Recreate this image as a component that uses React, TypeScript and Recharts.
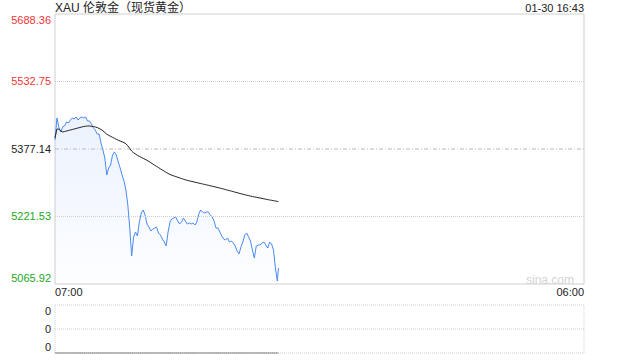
import React from 'react';
import { ComposedChart, Area, Line, XAxis, YAxis, ReferenceLine, ReferenceArea } from 'recharts';

const FONT = '"Liberation Sans", Arial, "Noto Sans CJK SC", sans-serif';

const prevClose = 5377.14;
const priceTicks = [5065.92, 5221.53, 5377.14, 5532.75, 5688.36];
const xTicks = [0, 1380];
const xLabels = ['07:00', '06:00'];
const stepMinutes = 5;
const lastMinute = 583; // 16:43

// 5-minute samples from 07:00, last point is 16:43
const prices = [
  5397.9, 5448.6, 5427.9, 5416.3, 5427.9, 5430.2, 5439.4, 5437.1, 5444.0, 5448.6,
  5446.3, 5450.9, 5444.0, 5448.6, 5450.9, 5448.6, 5450.9, 5441.7, 5441.7, 5434.8,
  5425.6, 5420.9, 5411.7, 5411.7, 5391.0, 5374.8, 5356.4, 5317.2, 5333.3, 5340.3,
  5363.3, 5370.2, 5363.3, 5347.2, 5333.3, 5317.2, 5303.4, 5282.6, 5248.0, 5195.0,
  5130.5, 5174.3, 5185.8, 5176.6, 5208.9, 5229.6, 5236.5, 5225.0, 5204.2, 5197.3,
  5188.1, 5192.7, 5195.0, 5197.3, 5183.5, 5178.9, 5169.7, 5162.7, 5153.5, 5185.8,
  5208.9, 5215.8, 5218.1, 5220.4, 5211.2, 5204.2, 5208.9, 5218.1, 5211.2, 5204.2,
  5206.6, 5204.2, 5206.6, 5201.9, 5208.9, 5227.3, 5236.5, 5231.9, 5229.6, 5231.9,
  5231.9, 5225.0, 5220.4, 5211.2, 5195.0, 5195.0, 5185.8, 5176.6, 5169.7, 5167.4,
  5172.0, 5162.7, 5165.1, 5160.4, 5153.5, 5142.0, 5135.1, 5151.2, 5162.7, 5178.9,
  5183.5, 5174.3, 5165.1, 5144.3, 5125.9, 5153.5, 5155.8, 5155.8, 5160.4, 5162.7,
  5155.8, 5148.9, 5162.7, 5158.1, 5144.3, 5102.8, 5072.8, 5102.8,
];

const avgPrices = [
  5402.5, 5423.2, 5423.2, 5418.6, 5416.3, 5417.5, 5418.6, 5419.8, 5420.9, 5422.1,
  5423.2, 5424.4, 5425.6, 5426.7, 5427.9, 5429.0, 5429.5, 5430.2, 5430.2, 5429.5,
  5429.0, 5427.9, 5426.7, 5424.4, 5422.1, 5419.1, 5415.2, 5411.3, 5408.7, 5406.4,
  5404.1, 5401.8, 5399.5, 5397.4, 5395.6, 5393.7, 5391.9, 5389.1, 5384.5, 5378.3,
  5372.5, 5368.4, 5365.6, 5362.4, 5360.3, 5358.0, 5355.7, 5353.4, 5351.1, 5348.3,
  5345.6, 5342.6, 5339.8, 5337.0, 5334.3, 5331.5, 5328.7, 5326.0, 5323.2, 5320.7,
  5318.4, 5316.7, 5315.1, 5313.5, 5312.1, 5310.5, 5308.9, 5307.5, 5306.1, 5305.0,
  5303.8, 5302.7, 5301.8, 5300.6, 5299.7, 5298.5, 5297.6, 5296.5, 5295.5, 5294.4,
  5293.5, 5292.3, 5291.4, 5290.2, 5289.3, 5288.2, 5287.0, 5285.8, 5284.7, 5283.5,
  5282.4, 5281.2, 5280.1, 5278.9, 5277.6, 5276.4, 5275.2, 5274.1, 5272.9, 5271.8,
  5270.6, 5269.7, 5268.6, 5267.6, 5266.7, 5265.8, 5264.9, 5264.2, 5263.3, 5262.3,
  5261.4, 5260.5, 5259.6, 5258.9, 5258.0, 5257.3, 5256.3, 5255.9,
];

// no volume reported for spot gold
const volumes = new Array(prices.length).fill(0);
const volTicks = [0, 0.5, 1];

const RED = '#f23535';
const GREEN = '#22a822';
const DARK = '#222';
const GRID = '#cfcfcf';

const minP = priceTicks[0];
const maxP = priceTicks[priceTicks.length - 1];

const colorFor = (v: number) => (v > prevClose + 0.001 ? RED : v < prevClose - 0.001 ? GREEN : DARK);
const edgeShift = (v: number, lo: number, hi: number) => (v === lo ? -6 : v === hi ? 6 : 0);

const PriceTick = (props: any) => {
  const { x, y, payload } = props;
  const v = payload.value;
  return (
    <text x={x} y={y + edgeShift(v, minP, maxP)} dy="0.35em" textAnchor="end" fontSize={11} fill={colorFor(v)} fontFamily={FONT}>
      {v.toFixed(2)}
    </text>
  );
};

const PctTick = (props: any) => {
  const { x, y, payload } = props;
  const v = payload.value;
  const pct = ((v - prevClose) / prevClose) * 100;
  const label = (pct > 0.001 ? '+' : '') + pct.toFixed(2) + '%';
  return (
    <text x={x} y={y + edgeShift(v, minP, maxP)} dy="0.35em" textAnchor="start" fontSize={11} fill={colorFor(v)} fontFamily={FONT}>
      {label}
    </text>
  );
};

const TimeTick = (props: any) => {
  const { x, y, payload, index } = props;
  return (
    <text x={x} y={y} dy="0.35em" textAnchor={index === 0 ? 'start' : 'end'} fontSize={11} fill={DARK} fontFamily={FONT}>
      {xLabels[xTicks.indexOf(payload.value)]}
    </text>
  );
};

const maxVolume = Math.max(...volumes);

const VolTick = (props: any) => {
  const { x, y, payload } = props;
  const v = payload.value;
  return (
    <text x={x} y={y + edgeShift(v, 0, 1)} dy="0.35em" textAnchor="end" fontSize={11} fill={DARK} fontFamily={FONT}>
      {(v * maxVolume).toFixed(0)}
    </text>
  );
};

export default function App() {
  const data = prices.map((p, i) => ({
    t: i < prices.length - 1 ? i * stepMinutes : lastMinute,
    price: p,
    avg: avgPrices[i],
    vol: volumes[i],
  }));

  return (
    <div style={{ position: 'absolute', left: 0, top: 0, width: 640, height: 360, background: '#fff', fontFamily: FONT }}>
      <div style={{ position: 'absolute', left: 0, top: 0 }}>
        <ComposedChart width={640} height={300} data={data} margin={{ top: 14, right: 0, bottom: 0, left: 0 }}>
          <defs>
            <linearGradient id="areaFill" x1="0" y1="0" x2="0" y2="1">
              <stop offset="0%" stopColor="#4a8af4" stopOpacity={0.18} />
              <stop offset="100%" stopColor="#4a8af4" stopOpacity={0.02} />
            </linearGradient>
          </defs>
          <XAxis
            dataKey="t"
            type="number"
            domain={[0, 1380]}
            ticks={xTicks}
            interval={0}
            height={16}
            tickSize={4}
            tickMargin={4}
            axisLine={false}
            tickLine={false}
            tick={(p: any) => <TimeTick {...p} />}
          />
          <YAxis
            yAxisId="left"
            domain={[minP, maxP]}
            ticks={priceTicks}
            interval={0}
            width={55}
            tickSize={2}
            tickMargin={2}
            axisLine={false}
            tickLine={false}
            tick={(p: any) => <PriceTick {...p} />}
          />
          <YAxis
            yAxisId="right"
            orientation="right"
            domain={[minP, maxP]}
            ticks={priceTicks}
            interval={0}
            width={56}
            tickSize={4}
            tickMargin={3}
            axisLine={false}
            tickLine={false}
            tick={(p: any) => <PctTick {...p} />}
          />
          <ReferenceArea yAxisId="left" x1={0} x2={1380} y1={minP} y2={maxP} fill="none" stroke={GRID} strokeWidth={1} />
          <ReferenceLine yAxisId="left" y={priceTicks[3]} stroke={GRID} strokeDasharray="1 1" />
          <ReferenceLine yAxisId="left" y={priceTicks[1]} stroke={GRID} strokeDasharray="1 1" />
          <ReferenceLine yAxisId="left" y={prevClose} stroke="#b8b8b8" strokeDasharray="4 2 1 2" />
          <Area
            yAxisId="left"
            dataKey="price"
            type="linear"
            stroke="#4a8af4"
            strokeWidth={1}
            fill="url(#areaFill)"
            dot={false}
            activeDot={false}
            isAnimationActive={false}
          />
          <Line
            yAxisId="left"
            dataKey="avg"
            type="linear"
            stroke="#222"
            strokeWidth={1}
            dot={false}
            activeDot={false}
            isAnimationActive={false}
          />
        </ComposedChart>
      </div>
      <div style={{ position: 'absolute', left: 0, top: 300 }}>
        <ComposedChart width={640} height={60} data={data} margin={{ top: 5, right: 56, bottom: 7, left: 0 }}>
          <XAxis dataKey="t" type="number" domain={[0, 1380]} hide />
          <YAxis
            domain={[0, 1]}
            ticks={volTicks}
            interval={0}
            width={55}
            tickSize={2}
            tickMargin={2}
            axisLine={false}
            tickLine={false}
            tick={(p: any) => <VolTick {...p} />}
          />
          <ReferenceArea x1={0} x2={1380} y1={0} y2={1} fill="none" stroke={GRID} strokeDasharray="1 1" />
          <ReferenceLine y={0.5} stroke={GRID} strokeDasharray="1 1" />
          <Line dataKey="vol" type="linear" stroke="#777" strokeWidth={1} dot={false} activeDot={false} isAnimationActive={false} />
        </ComposedChart>
      </div>
      <div style={{ position: 'absolute', left: 55, top: 0, fontSize: 12, lineHeight: '16px', color: DARK, whiteSpace: 'nowrap' }}>
        XAU 伦敦金（现货黄金）
      </div>
      <div style={{ position: 'absolute', right: 56, top: 0, fontSize: 11, lineHeight: '16px', color: DARK, whiteSpace: 'nowrap' }}>
        01-30 16:43
      </div>
      <div style={{ position: 'absolute', right: 66, top: 273, fontSize: 12, lineHeight: '14px', color: '#d4d4d4', whiteSpace: 'nowrap' }}>
        sina.com
      </div>
    </div>
  );
}
